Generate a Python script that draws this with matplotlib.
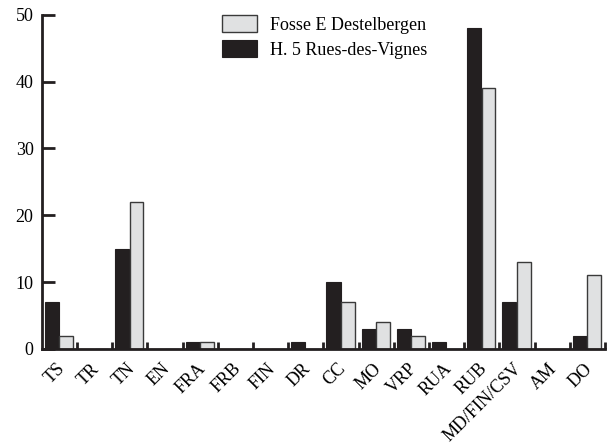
import numpy as np
import matplotlib
matplotlib.use("Agg")
import matplotlib.pyplot as plt

plt.rcParams['font.family'] = ['Liberation Serif', 'DejaVu Serif']

categories = ['TS', 'TR', 'TN', 'EN', 'FRA', 'FRB', 'FIN', 'DR', 'CC', 'MO',
              'VRP', 'RUA', 'RUB', 'MD/FIN/CSV', 'AM', 'DO']
rues_des_vignes = [7, 0, 15, 0, 1, 0, 0, 1, 10, 3, 3, 1, 48, 7, 0, 2]
destelbergen = [2, 0, 22, 0, 1, 0, 0, 0, 7, 4, 2, 0, 39, 13, 0, 11]

fig = plt.figure(figsize=(6.16, 4.48), dpi=100)
ax = fig.add_axes([0.068, 0.221, 0.914, 0.746])

x = np.arange(len(categories))
ax.bar(x + 0.086, rues_des_vignes, width=0.40, align='edge',
       color='#231f20', edgecolor='#231f20', linewidth=0.8,
       label='H. 5 Rues-des-Vignes', zorder=2)
ax.bar(x + 0.50, destelbergen, width=0.386, align='edge',
       color='#e0e1e2', edgecolor='#3a3a3a', linewidth=1.0,
       label='Fosse E Destelbergen', zorder=2)

ax.set_xlim(0, len(categories))
ax.set_ylim(0, 50)

for s in ['top', 'right']:
    ax.spines[s].set_visible(False)
for s in ['left', 'bottom']:
    ax.spines[s].set_linewidth(2.0)
    ax.spines[s].set_color('#231f20')

ax.set_yticks([0, 10, 20, 30, 40, 50])
ax.tick_params(axis='y', direction='in', length=9, width=2, color='#231f20',
               labelsize=13, pad=6)

ax.set_xticks(x + 0.4)
ax.set_xticklabels(categories, rotation=45, ha='right', rotation_mode='anchor')
ax.tick_params(axis='x', which='major', length=0, labelsize=13, pad=8)
ax.set_xticks(np.arange(1, len(categories) + 1), minor=True)
ax.tick_params(axis='x', which='minor', direction='in', length=5, width=2,
               color='#231f20')

handles, labels = ax.get_legend_handles_labels()
fig.legend(handles[::-1], labels[::-1], loc='upper left',
           bbox_to_anchor=(213 / 616, 1 - 6 / 448), frameon=False,
           fontsize=13, borderpad=0, handlelength=1.95, handleheight=1.1,
           labelspacing=0.35, handletextpad=0.7)

fig.savefig('out.png', dpi=100)
